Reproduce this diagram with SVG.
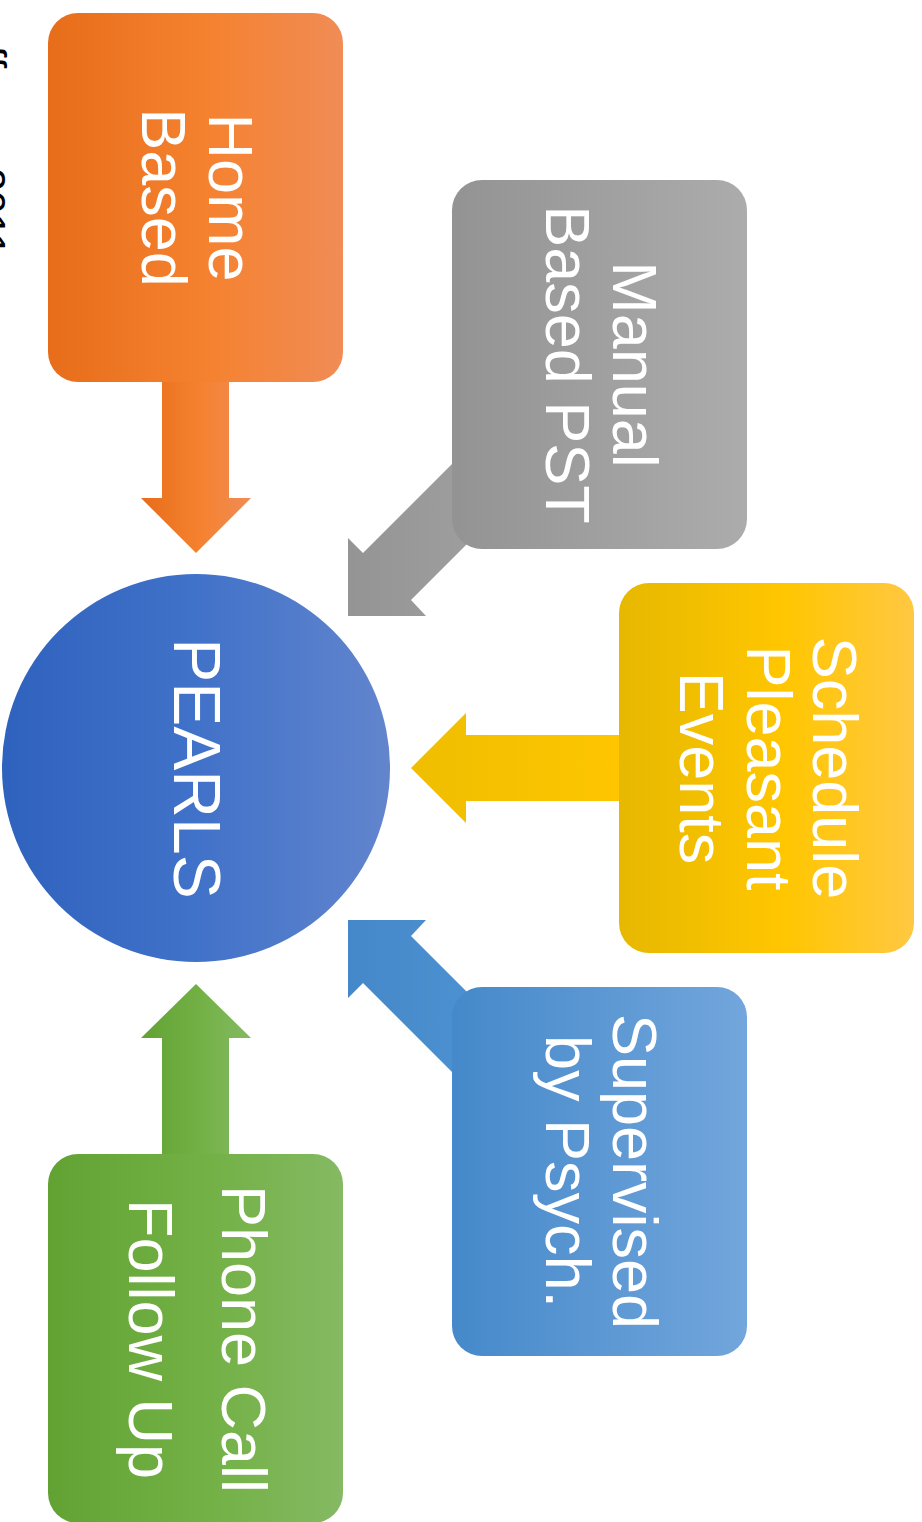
<svg xmlns="http://www.w3.org/2000/svg" width="922" height="1522" viewBox="0 0 922 1522">
<defs>
<linearGradient id="gOrange" x1="0" y1="0" x2="1" y2="0">
<stop offset="0" stop-color="#E76D1A"/><stop offset="0.55" stop-color="#F58230"/><stop offset="1" stop-color="#F08C56"/>
</linearGradient>
<linearGradient id="gGray" x1="0" y1="0" x2="1" y2="0">
<stop offset="0" stop-color="#939393"/><stop offset="1" stop-color="#ACACAC"/>
</linearGradient>
<linearGradient id="gGrayA" x1="0" y1="0" x2="1" y2="0">
<stop offset="0" stop-color="#949494"/><stop offset="1" stop-color="#A2A2A2"/>
</linearGradient>
<linearGradient id="gYellow" x1="0" y1="0" x2="1" y2="0">
<stop offset="0" stop-color="#E6B800"/><stop offset="0.55" stop-color="#FFC600"/><stop offset="1" stop-color="#FFC842"/>
</linearGradient>
<linearGradient id="gYellowA" x1="0" y1="0" x2="1" y2="0">
<stop offset="0" stop-color="#EFBE00"/><stop offset="1" stop-color="#FFC600"/>
</linearGradient>
<linearGradient id="gBlue" x1="0" y1="0" x2="1" y2="0">
<stop offset="0" stop-color="#4589CA"/><stop offset="1" stop-color="#72A6DC"/>
</linearGradient>
<linearGradient id="gBlueA" x1="0" y1="0" x2="1" y2="0">
<stop offset="0" stop-color="#4588C9"/><stop offset="1" stop-color="#4E94D3"/>
</linearGradient>
<linearGradient id="gCircle" x1="0" y1="0" x2="1" y2="0">
<stop offset="0" stop-color="#2F62BE"/><stop offset="0.5" stop-color="#4172C9"/><stop offset="1" stop-color="#6285CD"/>
</linearGradient>
<linearGradient id="gGreen" x1="0" y1="0" x2="1" y2="0">
<stop offset="0" stop-color="#62A233"/><stop offset="0.55" stop-color="#73B146"/><stop offset="1" stop-color="#85B963"/>
</linearGradient>
</defs>
<style>
.lbl{font-family:"Liberation Sans",Arial,sans-serif;font-size:63px;fill:#FFFFFF;text-anchor:middle}
.big{font-size:66px}
.frag{font-family:"Liberation Sans",Arial,sans-serif;font-size:41px;fill:#000000}
</style>
<rect width="922" height="1522" fill="#FFFFFF"/>

<g id="fragment">
<text class="frag" transform="translate(-23,46) rotate(90)">ff</text>
<text class="frag" transform="translate(-23,168) rotate(90)">2011</text>
</g>

<g id="connectors">
<path d="M162,370 L229,370 L229,498 L251,498 L196,553 L141,498 L162,498 Z" fill="url(#gOrange)"/>
<path d="M348,538 L363,553 L473,443 L521,490 L411,600 L426,616 L348,616 Z" fill="url(#gGrayA)"/>
<path d="M630,735 L466,735 L466,713 L411,768 L466,823 L466,801 L630,801 Z" fill="url(#gYellowA)"/>
<path d="M348,920 L426,920 L411,936 L521,1046 L473,1093 L363,983 L348,998 Z" fill="url(#gBlueA)"/>
<path d="M162,1165 L162,1038 L141,1038 L196,984 L251,1038 L229,1038 L229,1165 Z" fill="url(#gGreen)"/>
</g>

<g id="node-home">
<rect x="48" y="13" width="295" height="369" rx="30" fill="url(#gOrange)"/>
<text class="lbl" transform="translate(195.5,197.5) rotate(90)"><tspan x="0" y="-13.5">Home</tspan><tspan x="0" y="53.5">Based</tspan></text>
</g>

<g id="node-manual">
<rect x="452" y="180" width="295" height="369" rx="30" fill="url(#gGray)"/>
<text class="lbl" transform="translate(599.5,364.5) rotate(90)"><tspan x="0" y="-13.5">Manual</tspan><tspan x="0" y="53.5">Based PST</tspan></text>
</g>

<g id="node-pearls">
<circle cx="196" cy="768" r="194" fill="url(#gCircle)"/>
<text class="lbl big" transform="translate(196,768.5) rotate(90)"><tspan x="0" y="22">PEARLS</tspan></text>
</g>

<g id="node-schedule">
<rect x="619" y="583" width="295" height="370" rx="30" fill="url(#gYellow)"/>
<text class="lbl" transform="translate(766.5,768) rotate(90)"><tspan x="0" y="-46.5">Schedule</tspan><tspan x="0" y="19.5">Pleasant</tspan><tspan x="0" y="86.5">Events</tspan></text>
</g>

<g id="node-supervised">
<rect x="452" y="987" width="295" height="369" rx="30" fill="url(#gBlue)"/>
<text class="lbl" transform="translate(599.5,1171.5) rotate(90)"><tspan x="0" y="-13.5">Supervised</tspan><tspan x="0" y="53.5">by Psych.</tspan></text>
</g>

<g id="node-phone">
<rect x="48" y="1154" width="295" height="369" rx="30" fill="url(#gGreen)"/>
<text class="lbl" transform="translate(195.5,1339) rotate(90)"><tspan x="0" y="-26.5">Phone Call</tspan><tspan x="0" y="66.5">Follow Up</tspan></text>
</g>
</svg>
